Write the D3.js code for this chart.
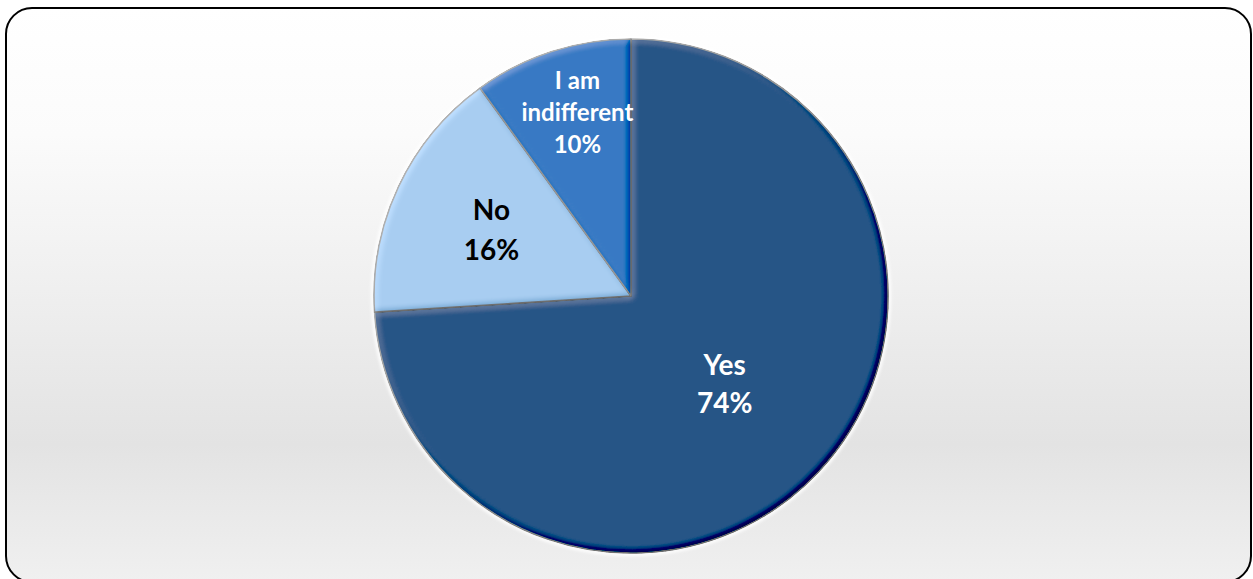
<!DOCTYPE html>
<html>
<head>
<meta charset="utf-8">
<script src="https://cdn.jsdelivr.net/npm/d3@7"></script>
<style>
  html, body { margin: 0; padding: 0; background: #fff; }
  svg { display: block; }
</style>
</head>
<body>
<div id="canvas"></div>
<script>
const categories = ["Yes", "No", "I am indifferent"];
const values = [74, 16, 10];
const labelNames = [["Yes"], ["No"], ["I am", "indifferent"]];

const width = 1253;
const height = 579;
const cx = 631, cy = 296, radius = 257;

const colors = ["#245486", "#a8cdf1", "#3579c3"];
const textColors = ["#ffffff", "#000000", "#ffffff"];
const fontSizes = [28, 28, 24];
const lineHeights = [38, 40, 32];
const labelRadius = [0.5, 0.6, 0.75];

const svg = d3.select("#canvas").append("svg")
  .attr("width", width)
  .attr("height", height);

const defs = svg.append("defs");

// panel background gradient
const bg = defs.append("linearGradient")
  .attr("id", "bg")
  .attr("x1", 0).attr("y1", 0).attr("x2", 0).attr("y2", 1);
bg.append("stop").attr("offset", "0").attr("stop-color", "#ffffff");
bg.append("stop").attr("offset", "0.22").attr("stop-color", "#fbfbfb");
bg.append("stop").attr("offset", "0.76").attr("stop-color", "#e3e3e3");
bg.append("stop").attr("offset", "1").attr("stop-color", "#f0f0f0");

// bevel look on each slice
const bevel = defs.append("filter")
  .attr("id", "bevel")
  .attr("x", "-5%").attr("y", "-5%")
  .attr("width", "110%").attr("height", "110%");
bevel.append("feGaussianBlur")
  .attr("in", "SourceAlpha")
  .attr("stdDeviation", 3)
  .attr("result", "blur");
bevel.append("feDiffuseLighting")
  .attr("in", "blur")
  .attr("surfaceScale", 4)
  .attr("diffuseConstant", 1)
  .attr("lighting-color", "#ffffff")
  .attr("result", "light")
  .append("feDistantLight")
  .attr("azimuth", 225)
  .attr("elevation", 35);
bevel.append("feComposite")
  .attr("in", "SourceGraphic")
  .attr("in2", "light")
  .attr("operator", "arithmetic")
  .attr("k1", 0).attr("k2", 1).attr("k3", 0.3).attr("k4", -0.17)
  .attr("result", "lit");
bevel.append("feComposite")
  .attr("in", "lit")
  .attr("in2", "SourceAlpha")
  .attr("operator", "in");

const halo = defs.append("filter")
  .attr("id", "halo")
  .attr("x", "-10%").attr("y", "-10%")
  .attr("width", "120%").attr("height", "120%");
halo.append("feGaussianBlur").attr("stdDeviation", 1.5);

svg.append("rect")
  .attr("x", 6)
  .attr("y", 8)
  .attr("width", 1245)
  .attr("height", 574)
  .attr("rx", 26)
  .attr("fill", "url(#bg)")
  .attr("stroke", "#000")
  .attr("stroke-width", 2);

const g = svg.append("g").attr("transform", `translate(${cx},${cy})`);

const pie = d3.pie().sort(null).value(d => d);
const arcs = pie(values);

const arc = d3.arc().innerRadius(0).outerRadius(radius);

// soft light rim around the pie
g.append("circle")
  .attr("r", radius + 1.5)
  .attr("fill", "none")
  .attr("stroke", "#ffffff")
  .attr("stroke-width", 3)
  .attr("filter", "url(#halo)");

g.selectAll(".slice")
  .data(arcs)
  .enter().append("path")
  .attr("class", "slice")
  .attr("d", arc)
  .attr("fill", (d, i) => colors[i])
  .attr("stroke", "#9a9a9a")
  .attr("stroke-width", 1.6)
  .attr("stroke-linejoin", "round")
  .attr("filter", "url(#bevel)");

const labels = g.selectAll(".label")
  .data(arcs)
  .enter().append("text")
  .attr("class", "label")
  .attr("text-anchor", "middle")
  .attr("font-family", "Lato, 'Open Sans', sans-serif")
  .attr("font-weight", "bold")
  .attr("font-size", (d, i) => fontSizes[i])
  .attr("fill", (d, i) => textColors[i])
  .attr("transform", (d, i) => {
    const r = radius * labelRadius[i];
    const c = d3.arc().innerRadius(r).outerRadius(r).centroid(d);
    return `translate(${c[0] + (i === 2 ? 6 : 0)},${c[1]})`;
  });

labels.each(function(d, i) {
  const total = d3.sum(values);
  const lines = labelNames[i].concat([Math.round(d.data / total * 100) + "%"]);
  const lh = lineHeights[i];
  const first = -(lines.length - 1) * lh / 2 + fontSizes[i] * 0.36;
  d3.select(this).selectAll("tspan")
    .data(lines)
    .enter().append("tspan")
    .attr("x", 0)
    .attr("y", (t, j) => first + j * lh)
    .text(t => t);
});
</script>
</body>
</html>
